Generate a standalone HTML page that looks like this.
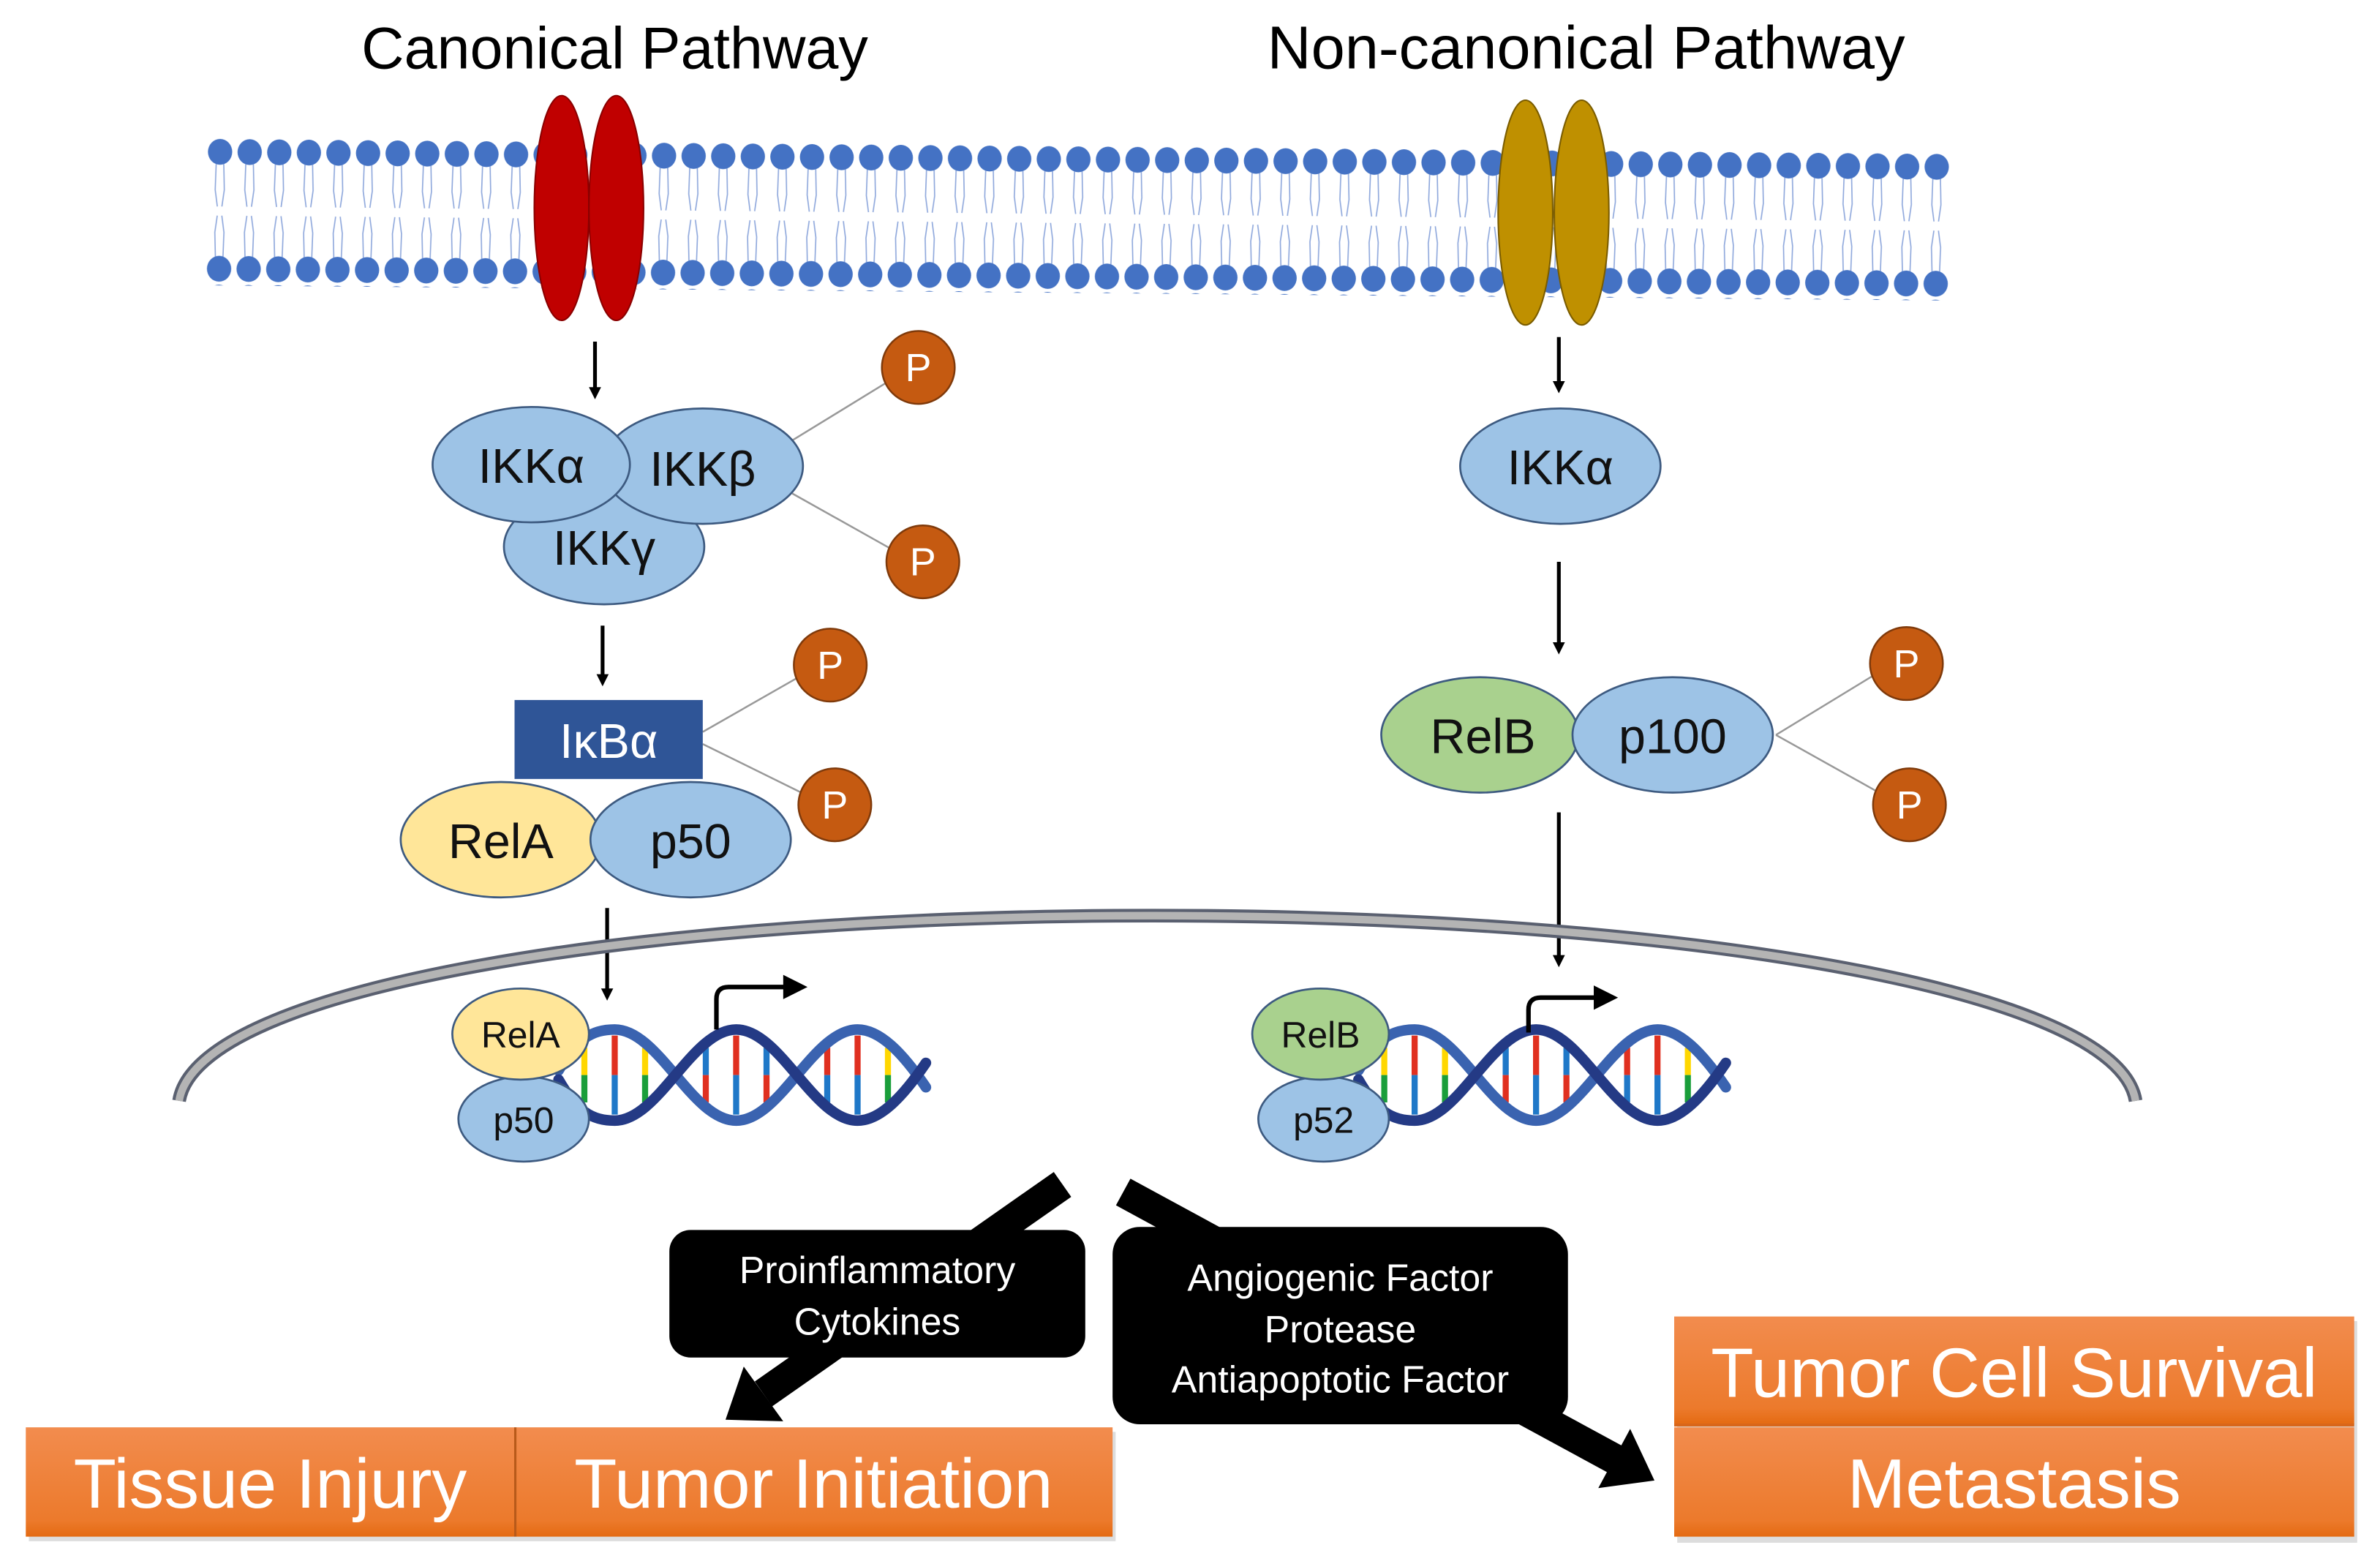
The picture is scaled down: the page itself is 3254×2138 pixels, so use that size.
<!DOCTYPE html>
<html><head><meta charset="utf-8"><style>
html,body{margin:0;padding:0;background:#fff;}
svg{display:block;}
text{font-family:"Liberation Sans",sans-serif;}
</style></head><body>
<svg width="3254" height="2138" viewBox="0 0 1568 1030" preserveAspectRatio="none" xmlns="http://www.w3.org/2000/svg">
<defs>
<linearGradient id="og" x1="0" y1="0" x2="0" y2="1">
<stop offset="0" stop-color="#F28C4E"/><stop offset="0.85" stop-color="#EC7A2C"/><stop offset="1" stop-color="#E46A12"/>
</linearGradient>
<pattern id="lip" x="135.25" y="91" width="19.5" height="96" patternUnits="userSpaceOnUse">
<path d="M7.25,17 L6.75,34 L8.25,45 M12.25,17 L12.75,34 L11.25,45 M7.25,78 L6.75,62 L8.25,51 M12.25,78 L12.75,62 L11.25,51" fill="none" stroke="#8fa8dc" stroke-width="0.8"/>
<ellipse cx="9.75" cy="9" rx="8" ry="8.5" fill="#4472C4"/>
<ellipse cx="9.75" cy="86" rx="8" ry="8.5" fill="#4472C4"/>
</pattern>
<g id="dna">
<g stroke-width="4">
<line x1="385" y1="690" x2="385" y2="708" stroke="#FFD700"/><line x1="385" y1="708" x2="385" y2="726" stroke="#1a9e3a"/>
<line x1="405" y1="682" x2="405" y2="708" stroke="#E03020"/><line x1="405" y1="708" x2="405" y2="734" stroke="#1f78c8"/>
<line x1="425" y1="690" x2="425" y2="708" stroke="#FFD700"/><line x1="425" y1="708" x2="425" y2="726" stroke="#1a9e3a"/>
<line x1="465" y1="690" x2="465" y2="708" stroke="#1f78c8"/><line x1="465" y1="708" x2="465" y2="726" stroke="#E03020"/>
<line x1="485" y1="682" x2="485" y2="708" stroke="#E03020"/><line x1="485" y1="708" x2="485" y2="734" stroke="#1f78c8"/>
<line x1="505" y1="690" x2="505" y2="708" stroke="#1f78c8"/><line x1="505" y1="708" x2="505" y2="726" stroke="#E03020"/>
<line x1="545" y1="690" x2="545" y2="708" stroke="#E03020"/><line x1="545" y1="708" x2="545" y2="726" stroke="#1f78c8"/>
<line x1="565" y1="682" x2="565" y2="708" stroke="#E03020"/><line x1="565" y1="708" x2="565" y2="734" stroke="#1f78c8"/>
<line x1="585" y1="690" x2="585" y2="708" stroke="#FFD700"/><line x1="585" y1="708" x2="585" y2="726" stroke="#1a9e3a"/>
</g>
<path d="M368,705 C380,684 390,678 405,678 C434,678 456,738 485,738 C514,738 536,678 565,678 C580,678 595,694 610,716" fill="none" stroke="#3a63b0" stroke-width="7" stroke-linecap="round"/>
<path d="M368,711 C380,732 390,738 405,738 C434,738 456,678 485,678 C514,678 536,738 565,738 C580,738 595,722 610,700" fill="none" stroke="#243a85" stroke-width="7" stroke-linecap="round"/>
</g>
</defs>
<rect width="1568" height="1030" fill="#fff"/>
<text x="405" y="45" font-size="39" text-anchor="middle">Canonical Pathway</text>
<text x="1045" y="45" font-size="40" text-anchor="middle">Non-canonical Pathway</text>
<!-- membrane -->
<g transform="rotate(0.5 145 100)">
<rect x="135" y="90" width="1150" height="98" fill="url(#lip)"/>
</g>
<!-- receptors -->
<ellipse cx="370" cy="137" rx="18" ry="74" fill="#C00000" stroke="#8a0000" stroke-width="1"/>
<ellipse cx="406" cy="137" rx="18" ry="74" fill="#C00000" stroke="#8a0000" stroke-width="1"/>
<ellipse cx="1005" cy="140" rx="18" ry="74" fill="#BF9000" stroke="#7a5c00" stroke-width="1"/>
<ellipse cx="1042" cy="140" rx="18" ry="74" fill="#BF9000" stroke="#7a5c00" stroke-width="1"/>
<!-- arrows -->
<g stroke="#000" stroke-width="2.5">
<line x1="392" y1="225" x2="392" y2="256"/><line x1="397" y1="412" x2="397" y2="445"/>
<line x1="400" y1="598" x2="400" y2="652"/><line x1="1027" y1="222" x2="1027" y2="252"/>
<line x1="1027" y1="370" x2="1027" y2="424"/><line x1="1027" y1="535" x2="1027" y2="630"/>
</g>
<g fill="#000">
<polygon points="388,255 396,255 392,263"/><polygon points="393,444 401,444 397,452"/>
<polygon points="396,651 404,651 400,659"/><polygon points="1023,251 1031,251 1027,259"/>
<polygon points="1023,423 1031,423 1027,431"/><polygon points="1023,629 1031,629 1027,637"/>
</g>
<!-- P lines -->
<g stroke="#999" stroke-width="1.2">
<line x1="522" y1="290" x2="584" y2="252"/><line x1="522" y1="325" x2="588" y2="362"/>
<line x1="463" y1="482" x2="526" y2="446"/><line x1="463" y1="490" x2="530" y2="523"/>
<line x1="1170" y1="484" x2="1234" y2="445"/><line x1="1170" y1="484" x2="1238" y2="522"/>
</g>
<!-- IKK complex -->
<g stroke="#3d5a80" stroke-width="1.3" fill="#9DC3E6">
<ellipse cx="398" cy="360" rx="66" ry="38"/>
<ellipse cx="463" cy="307" rx="66" ry="38"/>
<ellipse cx="350" cy="306" rx="65" ry="38"/>
<ellipse cx="1028" cy="307" rx="66" ry="38"/>
</g>
<ellipse cx="330" cy="553" rx="66" ry="38" fill="#FFE699" stroke="#3d5a80" stroke-width="1.3"/>
<ellipse cx="455" cy="553" rx="66" ry="38" fill="#9DC3E6" stroke="#3d5a80" stroke-width="1.3"/>
<ellipse cx="975" cy="484" rx="65" ry="38" fill="#A9D18E" stroke="#3d5a80" stroke-width="1.3"/>
<ellipse cx="1102" cy="484" rx="66" ry="38" fill="#9DC3E6" stroke="#3d5a80" stroke-width="1.3"/>
<rect x="339" y="461" width="124" height="52" fill="#2F5597"/>
<!-- nucleus -->
<path d="M118,725 C130,650 420,603 760,603 C1100,603 1395,650 1407,725" fill="none" stroke="#5a6070" stroke-width="9"/>
<path d="M118,725 C130,650 420,603 760,603 C1100,603 1395,650 1407,725" fill="none" stroke="#b4b4b4" stroke-width="5"/>
<use href="#dna"/>
<use href="#dna" transform="translate(527,0)"/>
<ellipse cx="345" cy="737" rx="43" ry="28" fill="#9DC3E6" stroke="#3d5a80" stroke-width="1.3"/>
<ellipse cx="872" cy="737" rx="43" ry="28" fill="#9DC3E6" stroke="#3d5a80" stroke-width="1.3"/>
<ellipse cx="343" cy="681" rx="45" ry="30" fill="#FFE699" stroke="#3d5a80" stroke-width="1.3"/>
<ellipse cx="870" cy="681" rx="45" ry="30" fill="#A9D18E" stroke="#3d5a80" stroke-width="1.3"/>
<g font-size="32" text-anchor="middle" fill="#111">
<text x="350" y="318">IKKα</text><text x="463" y="320">IKKβ</text><text x="398" y="372">IKKγ</text>
<text x="1028" y="319">IKKα</text><text x="330" y="565">RelA</text><text x="455" y="565">p50</text>
<text x="977" y="496">RelB</text><text x="1102" y="496">p100</text>
<text x="401" y="499" fill="#fff">IκBα</text>
</g>
<g font-size="24" text-anchor="middle" fill="#111">
<text x="343" y="690">RelA</text><text x="345" y="746">p50</text>
<text x="870" y="690">RelB</text><text x="872" y="746">p52</text>
</g>
<!-- P circles -->
<g fill="#C55A11" stroke="#7f3a0b" stroke-width="1.2">
<circle cx="605" cy="242" r="24"/><circle cx="608" cy="370" r="24"/>
<circle cx="547" cy="438" r="24"/><circle cx="550" cy="530" r="24"/>
<circle cx="1256" cy="437" r="24"/><circle cx="1258" cy="530" r="24"/>
</g>
<g font-size="26" fill="#fff" text-anchor="middle">
<text x="605" y="251">P</text><text x="608" y="379">P</text><text x="547" y="447">P</text>
<text x="550" y="539">P</text><text x="1256" y="446">P</text><text x="1258" y="539">P</text>
</g>
<!-- transcription arrows -->
<path d="M472,678 V658 Q472,650 480,650 H518" fill="none" stroke="#000" stroke-width="3"/>
<polygon points="516,642 532,650 516,658" fill="#000"/>
<path d="M1007,680 V665 Q1007,657 1015,657 H1052" fill="none" stroke="#000" stroke-width="3"/>
<polygon points="1050,649 1066,657 1050,665" fill="#000"/>
<!-- big black arrows -->
<line x1="700" y1="780" x2="503" y2="918" stroke="#000" stroke-width="20"/>
<polygon points="478,935 516,936 490,900" fill="#000"/>
<line x1="740" y1="785" x2="1064" y2="961" stroke="#000" stroke-width="20"/>
<polygon points="1090,975 1053,980 1074,941" fill="#000"/>
<rect x="441" y="810" width="274" height="84" rx="14" fill="#000"/>
<rect x="733" y="808" width="300" height="130" rx="18" fill="#000"/>
<g font-size="25" fill="#fff" text-anchor="middle">
<text x="578" y="845">Proinflammatory</text><text x="578" y="879">Cytokines</text>
<text x="883" y="850">Angiogenic Factor</text><text x="883" y="884">Protease</text><text x="883" y="917">Antiapoptotic Factor</text>
</g>
<!-- orange boxes -->
<g fill="#bbb" opacity="0.5">
<rect x="19" y="943" width="716" height="72"/><rect x="1105" y="870" width="448" height="146"/>
</g>
<rect x="17" y="940" width="322" height="72" fill="url(#og)"/>
<rect x="340" y="940" width="393" height="72" fill="url(#og)"/>
<rect x="1103" y="867" width="448" height="71" fill="url(#og)"/>
<rect x="1103" y="940" width="448" height="72" fill="url(#og)"/>
<line x1="339.5" y1="940" x2="339.5" y2="1012" stroke="#b85a1a" stroke-width="1.5"/>
<line x1="1103" y1="938.5" x2="1551" y2="938.5" stroke="#d9661a" stroke-width="2"/>
<g font-size="46" fill="#fff" text-anchor="middle">
<text x="178" y="993">Tissue Injury</text><text x="536" y="993">Tumor Initiation</text>
<text x="1327" y="920">Tumor Cell Survival</text><text x="1327" y="993">Metastasis</text>
</g>
</svg>
</body></html>
